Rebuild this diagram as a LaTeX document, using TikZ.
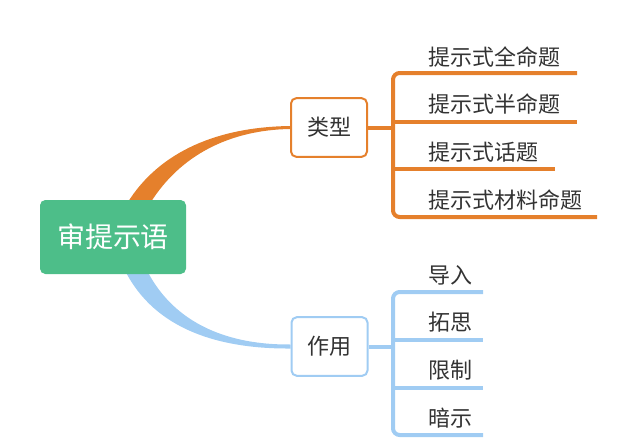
\documentclass[tikz,border=0pt]{standalone}
\usepackage{fontspec}
\setmainfont{Noto Sans CJK SC}
\usetikzlibrary{calc,backgrounds}

\definecolor{rootgreen}{RGB}{77,190,137}
\definecolor{typeorange}{RGB}{229,128,44}
\definecolor{useblue}{RGB}{160,204,243}
\definecolor{txtgray}{RGB}{51,51,51}

\tikzset{every picture/.style={line width=0.75pt}}
\tikzset{
  rootbox/.style={fill=rootgreen, rounded corners=4pt, minimum width=109.5pt, minimum height=55.5pt, inner sep=0pt, text=white, font=\fontsize{21}{21}\selectfont},
  topicbox/.style={draw=#1, fill=white, line width=1.5pt, rounded corners=4pt, minimum width=57pt, minimum height=44pt, inner sep=0pt, text=txtgray, font=\fontsize{16.5}{16.5}\selectfont},
  leaftext/.style={text=txtgray, anchor=west, inner sep=0pt, font=\fontsize{16.5}{16.5}\selectfont},
  branch/.style={draw=#1, line width=3pt, rounded corners=5pt},
}

\begin{document}
\begin{tikzpicture}[x=0.75pt,y=0.75pt,yscale=-1,xscale=1]
\useasboundingbox (0,0) rectangle (640,446);

%Main topic
\node [rootbox] (root) at (113,237) {审提示语};

%Sub topics
\node [topicbox=typeorange] (lx) at (329,127.5) {类型};
\node [topicbox=useblue] (zy) at (329.5,346.5) {作用};

%Tapered curves
\begin{scope}[on background layer]
\fill [typeorange] ($(root.north)+(14,4)$) .. controls (160,150) and (220,127) .. ($(lx.west)+(0,-1.5)$)
  -- ($(lx.west)+(0,1.5)$) .. controls (230,130) and (180,155) .. ($(root.north)+(37,4)$) -- cycle;
\fill [useblue] ($(root.south)+(12,-4)$) .. controls (155,330) and (220,349) .. ($(zy.west)+(0,2)$)
  -- ($(zy.west)+(0,-2)$) .. controls (230,345) and (175,325) .. ($(root.south)+(34,-4)$) -- cycle;
\end{scope}

%Type branch
\coordinate (ob) at (393,127.5);
\coordinate (oe1) at (577,73);
\coordinate (oe2) at (577,122);
\coordinate (oe3) at (555,169);
\coordinate (oe4) at (597,217);
\draw [branch=typeorange] (lx.east) -- (ob);
\draw [branch=typeorange] (oe1) -| (ob) |- (oe4);
\draw [branch=typeorange] (ob|-oe2) -- (oe2);
\draw [branch=typeorange] (ob|-oe3) -- (oe3);

\node [leaftext] (t1) at (428,57) {提示式全命题};
\node [leaftext] (t2) at (428,104) {提示式半命题};
\node [leaftext] (t3) at (428,152) {提示式话题};
\node [leaftext] (t4) at (428,200) {提示式材料命题};

%Use branch
\coordinate (bb) at (393,346.5);
\coordinate (be1) at (483,292);
\coordinate (be2) at (483,340);
\coordinate (be3) at (483,388);
\coordinate (be4) at (483,435);
\draw [branch=useblue] (zy.east) -- (bb);
\draw [branch=useblue] (be1) -| (bb) |- (be4);
\draw [branch=useblue] (bb|-be2) -- (be2);
\draw [branch=useblue] (bb|-be3) -- (be3);

\node [leaftext] (f1) at (428,275) {导入};
\node [leaftext] (f2) at (428,322) {拓思};
\node [leaftext] (f3) at (428,370) {限制};
\node [leaftext] (f4) at (428,418) {暗示};

\end{tikzpicture}
\end{document}
